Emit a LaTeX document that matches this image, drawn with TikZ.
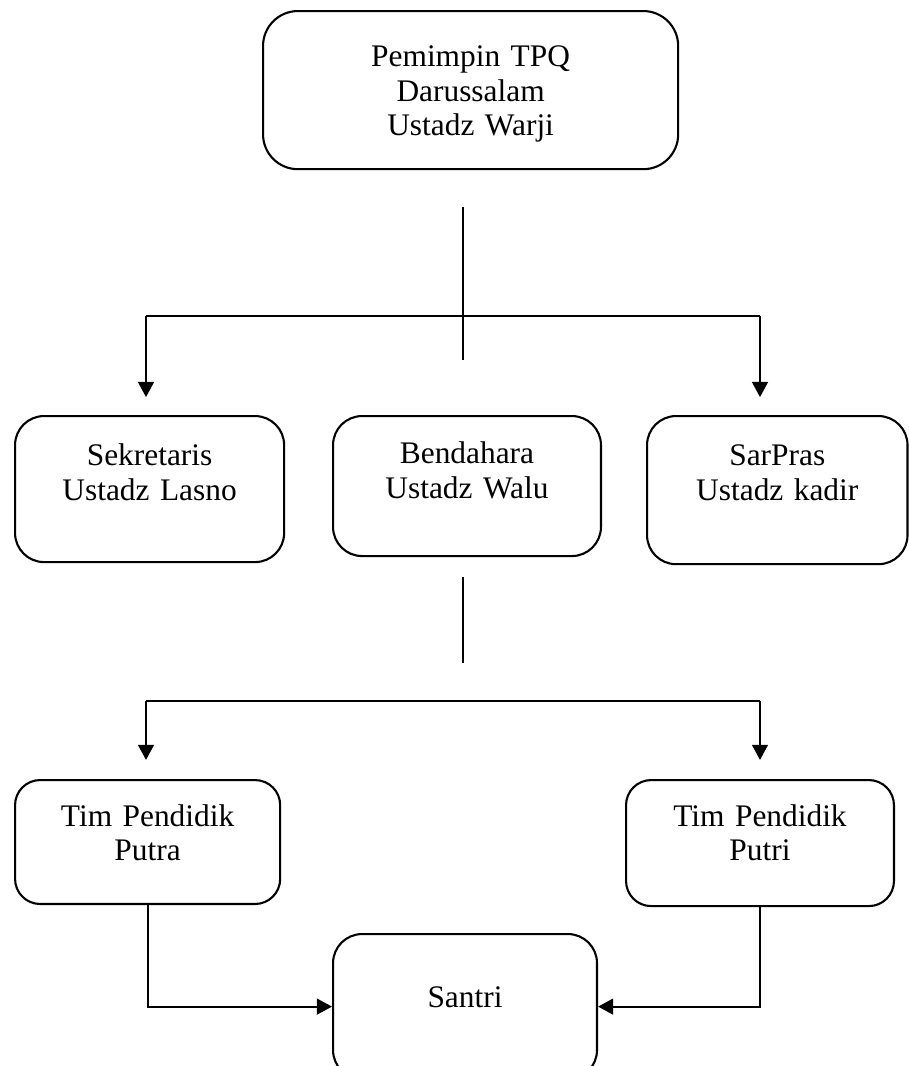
\documentclass[tikz,border=0pt]{standalone}
\usepackage{fontspec}
\setmainfont{Liberation Serif}
\usetikzlibrary{arrows.meta}

\begin{document}
\begin{tikzpicture}[
    x=0.43pt, y=-0.43pt,
    box/.style  = {rectangle, rounded corners=12.5pt, draw, line width=0.9pt,
                   anchor=north west, inner sep=0pt, align=center,
                   font=\fontsize{13.5}{15}\selectfont},
    link/.style = {line width=0.9pt},
    arr/.style  = {link, -{Triangle[length=6.5pt, width=6.8pt]}},
  ]
  \useasboundingbox (0,0) rectangle (909,1066);

  %% Leader
  \node[box, rounded corners=15pt, text width=178.5pt, text height=23.7pt, text depth=44.3pt]
    (lead) at (262,10) {Pemimpin TPQ\\Darussalam\\Ustadz Warji};

  %% Second row
  \node[box, text width=115.7pt, text height=21.1pt, text depth=41.7pt]
    (sekr) at (14,415) {Sekretaris\\Ustadz Lasno};
  \node[box, text width=115.2pt, text height=20.6pt, text depth=39.6pt]
    (bend) at (332,415) {Bendahara\\Ustadz Walu};
  \node[box, text width=112pt, text height=21.1pt, text depth=42.6pt]
    (sarp) at (646,415) {SarPras\\Ustadz kadir};

  %% Teachers
  \node[box, rounded corners=10.8pt, text width=114pt, text height=19.8pt, text depth=33.5pt]
    (putra) at (14,779) {Tim Pendidik\\Putra};
  \node[box, rounded corners=10.8pt, text width=115.2pt, text height=19.8pt, text depth=34.4pt]
    (putri) at (625,779) {Tim Pendidik\\Putri};

  %% Students
  \node[box, text width=113.5pt, text height=31.4pt, text depth=31pt]
    (santri) at (332,933) {Santri};

  %% Branch points
  \coordinate (stem1top) at (463,207);
  \coordinate (stem1bot) at (463,360);
  \coordinate (bar1w)    at (146,316);
  \coordinate (bar1e)    at (760,316);
  \coordinate (stem2top) at (463,577);
  \coordinate (stem2bot) at (463,663);
  \coordinate (bar2w)    at (146,701);
  \coordinate (bar2e)    at (760,701);

  %% Leader to second row
  \draw[link] (stem1top) -- (stem1bot);
  \draw[link] (bar1w) -- (bar1e);
  \draw[arr, shorten >=7.7pt] (bar1w) -- (bar1w |- sekr.north);
  \draw[arr, shorten >=7.7pt] (bar1e) -- (bar1e |- sarp.north);

  %% Second row to teachers
  \draw[link] (stem2top) -- (stem2bot);
  \draw[link] (bar2w) -- (bar2e);
  \draw[arr, shorten >=8.2pt] (bar2w) -- (bar2w |- putra.north);
  \draw[arr, shorten >=8.2pt] (bar2e) -- (bar2e |- putri.north);

  %% Teachers to students
  \draw[arr] (putra.south) |- (santri.west);
  \draw[arr] (putri.south) |- (santri.east);

\end{tikzpicture}
\end{document}
